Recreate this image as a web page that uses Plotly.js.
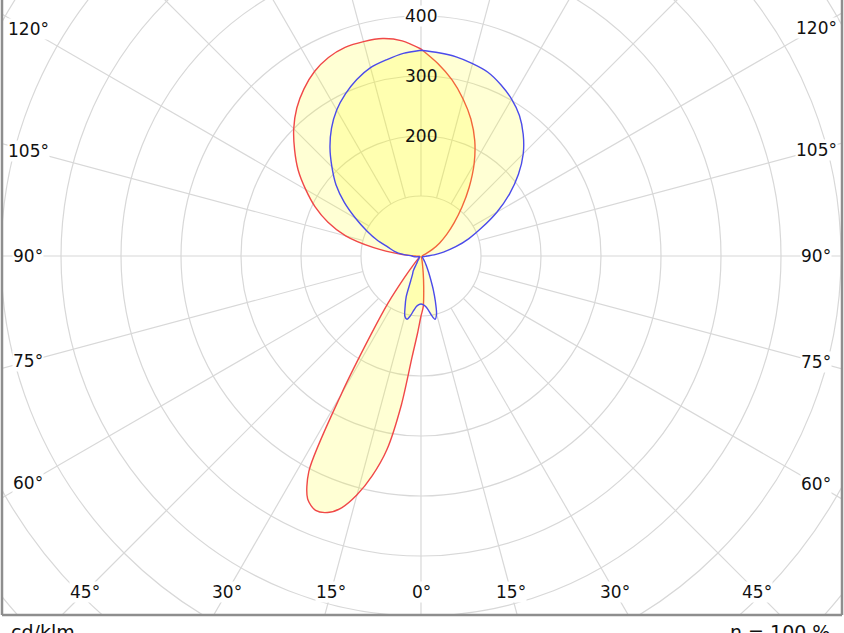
<!DOCTYPE html>
<html><head><meta charset="utf-8">
<script src="https://cdn.plot.ly/plotly-3.0.1.min.js"></script>
<style>html,body{margin:0;padding:0;background:#fff;}#chart{width:844px;height:633px;}</style>
</head><body><div id="chart"></div>
<script>
// gamma angles (degrees from nadir)
const gamma = [0,2.5,5,7.5,10,12.5,15,17.5,20,22.5,25,27.5,30,32.5,35,37.5,40,45,50,55,60,65,70,75,80,85,90,95,100,105,110,115,120,125,130,135,140,145,150,155,160,165,170,175,180];
// C0 (right) / C180 (left) plane, cd/klm  (red)
const c0   = [100,85,52,28,14,8,5,4,3,2,2,2,2,2,2,2,2,2,2,2,2,2,2,2,2,2,2,2,2,3,5,10,22,38,56,78,106,140,177,212,243,271,298,322,345];
const c180 = [100,128,168,250,328,375,412,440,455,459,447,405,265,155,95,45,22,8,4,3,2,2,2,2,3,5,10,35,80,130,165,195,222,250,275,300,322,340,355,365,370,370,368,360,345];
// C90 (right) / C270 (left) plane, cd/klm  (blue)
const c90  = [80,81,84,90,100,108,100,80,60,42,30,22,16,12,9,7,5,4,3,3,3,3,3,4,5,7,10,22,38,60,85,112,146,180,212,241,265,286,302,315,326,332,337,340,343];
const c270 = [80,81,84,91,101,108,104,88,72,45,33,28,15,11,8,6,5,4,3,3,3,3,3,5,8,12,15,30,45,57,78,100,126,156,185,210,236,260,281,298,313,325,332,339,343];
// grid / labels
const rings = [100,200,300,400,500,600,700,800,900,1000];
const ringLabels = [200,300,400];
const spokeStep = 15;
const angleLabels = [0,15,30,45,60,75,90,105,120];
const unitText = 'cd/klm';
const effText = 'η = 100 %';

const W=844,H=633, ml=2, mr=2, mt=0, mb=18;
const cx=421, cy=256, k=0.6;
const pw=W-ml-mr, ph=H-mt-mb;
const xr=[(ml-cx)/k,(W-mr-cx)/k];
const yr=[-(H-mb-cy)/k,(cy-mt)/k];
const rad=d=>d*Math.PI/180;

function curve(right,left){
  const x=[],y=[];
  for(let i=0;i<gamma.length;i++){x.push(right[i]*Math.sin(rad(gamma[i])));y.push(-right[i]*Math.cos(rad(gamma[i])));}
  for(let i=gamma.length-1;i>=0;i--){x.push(-left[i]*Math.sin(rad(gamma[i])));y.push(-left[i]*Math.cos(rad(gamma[i])));}
  return {x,y};
}
const red=curve(c0,c180), blue=curve(c90,c270);
const fillc='rgba(255,255,0,0.17)';
const traces=[
 {x:red.x,y:red.y,mode:'lines',fill:'toself',fillcolor:fillc,line:{color:'#f04848',width:1.4,shape:'spline',smoothing:0.8},hoverinfo:'skip'},
 {x:blue.x,y:blue.y,mode:'lines',fill:'toself',fillcolor:fillc,line:{color:'#4b4bea',width:1.4,shape:'spline',smoothing:0.8},hoverinfo:'skip'}
];
const gridc='#d8d8d8';
const shapes=[];
rings.forEach(r=>shapes.push({type:'circle',xref:'x',yref:'y',x0:-r,x1:r,y0:-r,y1:r,line:{color:gridc,width:1.2},layer:'below'}));
for(let a=0;a<360;a+=spokeStep){
  const s=Math.sin(rad(a)),c=Math.cos(rad(a));
  shapes.push({type:'line',xref:'x',yref:'y',x0:100*s,y0:-100*c,x1:1200*s,y1:-1200*c,line:{color:gridc,width:1.2},layer:'below'});
}
// frame
const fc='#8e8e8e';
shapes.push({type:'line',xref:'paper',yref:'paper',x0:0,x1:0,y0:0,y1:1,line:{color:fc,width:2.5}});
shapes.push({type:'line',xref:'paper',yref:'paper',x0:1,x1:1,y0:0,y1:1,line:{color:fc,width:2.5}});
shapes.push({type:'line',xref:'paper',yref:'paper',x0:0,x1:1,y0:0,y1:0,line:{color:fc,width:2.5}});

const font={family:'DejaVu Sans, Verdana, sans-serif',size:17,color:'#111'};
const ann=[];
// angle labels on inset rectangle
const insL=(28-cx)/k, insR=(W-28-cx)/k, insB=-(592-cy)/k;
angleLabels.forEach(a=>{
  [-1,1].forEach(side=>{
    if(a===0&&side===1)return;
    const dx=side*Math.sin(rad(a)), dy=-Math.cos(rad(a));
    let t=Infinity;
    if(dy<-1e-9)t=Math.min(t,insB/dy);
    if(dx<-1e-9)t=Math.min(t,insL/dx);
    if(dx>1e-9)t=Math.min(t,insR/dx);
    ann.push({xref:'x',yref:'y',x:t*dx,y:t*dy,text:a+'°',showarrow:false,font,bgcolor:'white',borderpad:0,xanchor:'center',yanchor:'middle'});
  });
});
ringLabels.forEach(r=>ann.push({xref:'x',yref:'y',x:0,y:r,text:String(r),showarrow:false,font,bgcolor:r===400?'white':'rgba(0,0,0,0)',borderpad:0}));
const py=p=>(mt+ph-p)/ph, px=p=>(p-ml)/pw;
ann.push({xref:'paper',yref:'paper',x:px(9),y:py(619),xanchor:'left',yanchor:'top',text:unitText,showarrow:false,font:{...font,size:19}});
ann.push({xref:'paper',yref:'paper',x:px(832),y:py(619),xanchor:'right',yanchor:'top',text:effText,showarrow:false,font:{...font,size:19}});

const layout={width:W,height:H,margin:{l:ml,r:mr,t:mt,b:mb,pad:0},paper_bgcolor:'#fff',plot_bgcolor:'#fff',showlegend:false,
 xaxis:{range:xr,visible:false,fixedrange:true},yaxis:{range:yr,visible:false,fixedrange:true},
 shapes,annotations:ann};
Plotly.newPlot('chart',traces,layout,{displayModeBar:false,staticPlot:true});
</script></body></html>
